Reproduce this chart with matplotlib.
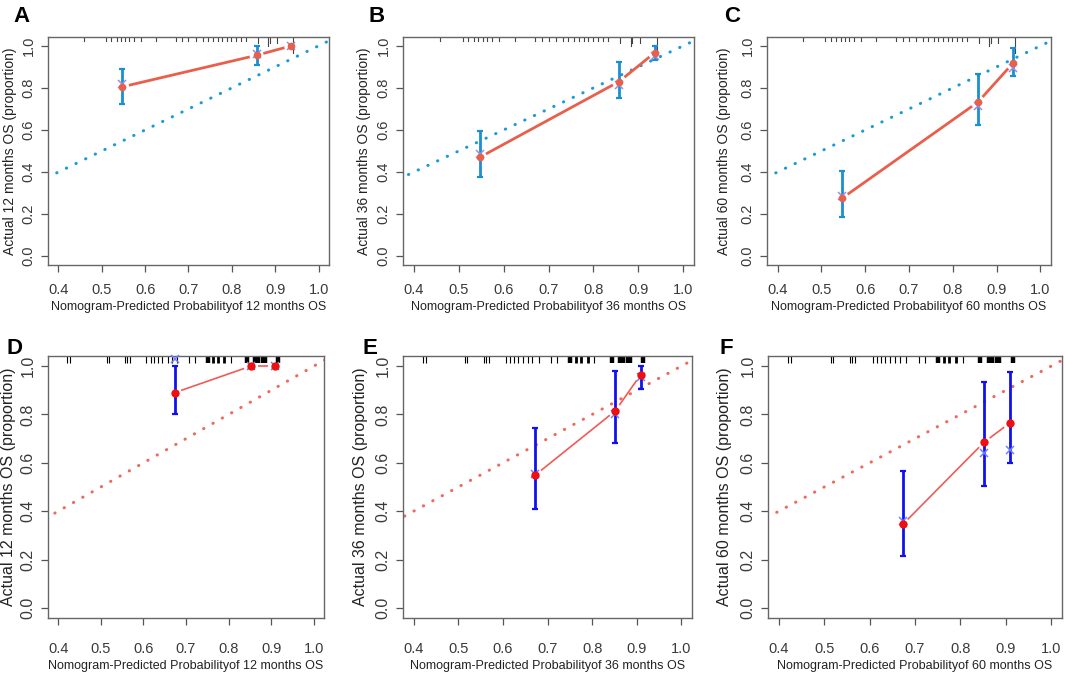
import matplotlib
matplotlib.use("Agg")
import matplotlib.pyplot as plt
import numpy as np

plt.rcParams['font.family'] = ['Liberation Sans', 'DejaVu Sans']

W, H = 1065, 680

# ---- data ----
months = [12, 36, 60, 12, 36, 60]
letters = ['A', 'B', 'C', 'D', 'E', 'F']

pred_top = [0.547, 0.857, 0.937]
pred_bot = [0.673, 0.852, 0.909]

obs = [
    [0.805, 0.955, 1.000],
    [0.470, 0.830, 0.968],
    [0.275, 0.732, 0.917],
    [0.890, 1.000, 1.000],
    [0.550, 0.815, 0.965],
    [0.345, 0.685, 0.765],
]
lower = [
    [0.725, 0.910, 1.000],
    [0.375, 0.750, 0.935],
    [0.185, 0.622, 0.855],
    [0.800, 1.000, 1.000],
    [0.410, 0.680, 0.905],
    [0.215, 0.505, 0.600],
]
upper = [
    [0.890, 1.000, 1.000],
    [0.595, 0.925, 1.000],
    [0.405, 0.865, 0.990],
    [1.000, 1.000, 1.000],
    [0.745, 0.980, 1.000],
    [0.565, 0.935, 0.975],
]
kaplan = [
    [0.820, 0.960, 1.000],
    [0.485, 0.812, 0.950],
    [0.285, 0.712, 0.895],
    [1.030, 1.000, 1.000],
    [0.555, 0.800, 0.955],
    [0.360, 0.640, 0.655],
]

rug_top = [0.459, 0.509, 0.521, 0.534, 0.544, 0.554, 0.563, 0.575, 0.590, 0.625,
           0.671, 0.686, 0.700, 0.717, 0.733, 0.744, 0.756, 0.767, 0.778, 0.788,
           0.798, 0.810, 0.821, 0.833, 0.860, 0.883, 0.887, 0.904, 0.942]
rug_top_n = [1, 1, 1, 1, 1, 1, 1, 1, 1, 1, 1, 1, 1, 1, 1, 1, 1, 1, 1, 1,
             1, 1, 1, 1, 2, 3, 2, 2, 6]
rug_bot = [0.420, 0.427, 0.514, 0.520, 0.557, 0.562, 0.568, 0.607, 0.617, 0.624,
           0.634, 0.644, 0.657, 0.666, 0.680, 0.708, 0.721, 0.751, 0.763, 0.775,
           0.790, 0.805, 0.844, 0.863, 0.869, 0.880, 0.885, 0.915]
rug_bot_n = [1, 1, 1, 1, 1, 1, 1, 1, 1, 1, 1, 1, 1, 1, 1, 1, 1, 3, 2, 2,
             2, 1, 3, 3, 3, 3, 3, 3]

xticks = [0.4, 0.5, 0.6, 0.7, 0.8, 0.9, 1.0]
yticks = [0.0, 0.2, 0.4, 0.6, 0.8, 1.0]

# panel boxes in pixels: left, top, right, bottom
boxes = [(48, 37, 329, 265), (403, 37, 694, 265), (767, 37, 1051, 265),
         (48, 356, 324, 618), (403, 356, 692, 618), (768, 356, 1062, 618)]
ylab_x = [10, 364, 724, 9, 361, 724]
xlab_y = [301, 301, 301, 660, 660, 660]
letter_pos = [(22, 16), (377, 16), (732, 16), (14, 349), (370, 349), (726, 349)]

fig = plt.figure(figsize=(W / 100, H / 100), dpi=100)


def gapped_line(ax, x, y, color, lw, gap):
    tr = ax.transData
    inv = tr.inverted()
    for i in range(len(x) - 1):
        p0 = tr.transform((x[i], y[i]))
        p1 = tr.transform((x[i + 1], y[i + 1]))
        d = p1 - p0
        L = np.hypot(*d)
        if L <= 2 * gap + 1:
            continue
        u = d / L
        a = inv.transform(p0 + u * gap)
        b = inv.transform(p1 - u * gap)
        ax.plot([a[0], b[0]], [a[1], b[1]], color=color, lw=lw,
                solid_capstyle='butt', zorder=3)


for k in range(6):
    l, t, r, b = boxes[k]
    ax = fig.add_axes([l / W, 1 - b / H, (r - l) / W, (b - t) / H])
    ax.set_xlim(0.376, 1.024)
    ax.set_ylim(-0.042, 1.042)
    top = k < 3
    xs = pred_top if top else pred_bot

    if top:
        c_err, c_line, c_pt, c_x, c_diag = '#1a8fd2', '#e8604c', '#e8604c', '#9a8ee0', '#1a9ad8'
        lw_line, lw_err = 2.0, 2.0
    else:
        c_err, c_line, c_pt, c_x, c_diag = '#1010f0', '#f25a55', '#ee1010', '#7080ff', '#ee6a5a'
        lw_line, lw_err = 1.2, 2.0

    # ideal line
    ax.plot([0, 1.1], [0, 1.1], color=c_diag, lw=2.2,
            linestyle=(0, (0.1, 3.4)), dash_capstyle='round', zorder=2)

    yerr = [np.array(obs[k]) - np.array(lower[k]), np.array(upper[k]) - np.array(obs[k])]
    ax.errorbar(xs, obs[k], yerr=yerr, fmt='none', ecolor=c_err, elinewidth=lw_err,
                capsize=2.5, capthick=1.6, zorder=3)
    gapped_line(ax, xs, obs[k], c_line, lw_line, 7)
    ax.plot(xs, kaplan[k], 'x', color=c_x, ms=6, mew=1.1, zorder=4, clip_on=False)
    ax.plot(xs, obs[k], 'o', color=c_pt, ms=5.5 if top else 6, mew=0, zorder=5)

    # risk distribution rug at top
    if top:
        for xv, n in zip(rug_top, rug_top_n):
            ax.plot([xv, xv], [1.042, 1.042 - 0.012 * (n + 0.5)], color='#444444', lw=0.8, zorder=2)
    else:
        for xv, n in zip(rug_bot, rug_bot_n):
            ax.plot([xv, xv], [1.042, 1.014], color='black', lw=0.8 + 1.2 * (n - 1), zorder=2,
                    solid_capstyle='butt')

    ax.set_xticks(xticks)
    ax.set_xticklabels(['%.1f' % v for v in xticks])
    ax.set_yticks(yticks)
    ax.set_yticklabels(['%.1f' % v for v in yticks], rotation=90, va='center')
    ax.tick_params(axis='both', direction='out', length=5, width=0.9, color='#555555',
                   labelcolor='#3a3a3a')
    if top:
        ax.tick_params(axis='x', pad=8, labelsize=10.5)
        ax.tick_params(axis='y', pad=4, labelsize=10.5)
    else:
        ax.tick_params(axis='x', pad=12, labelsize=10.5)
        ax.tick_params(axis='y', pad=4, labelsize=11.5)
    for s in ax.spines.values():
        s.set_color('#666666')
        s.set_linewidth(1.0)

    ax.set_xlabel('Nomogram-Predicted Probabilityof %d months OS' % months[k],
                  fontsize=9, color='#222222')
    ax.set_ylabel('Actual %d months OS (proportion)' % months[k],
                  fontsize=10 if top else 11.5, color='#222222')
    hgt = b - t
    wid = r - l
    ax.xaxis.set_label_coords(0.5, -(xlab_y[k] - b) / hgt)
    ax.yaxis.set_label_coords(-(l - ylab_x[k]) / wid, 0.5)
    ax.yaxis.label.set_va('center')

    lx, ly = letter_pos[k]
    fig.text(lx / W, 1 - ly / H, letters[k], fontsize=16, fontweight='bold',
             ha='center', va='center', color='black')

fig.savefig('out.png', dpi=100)
